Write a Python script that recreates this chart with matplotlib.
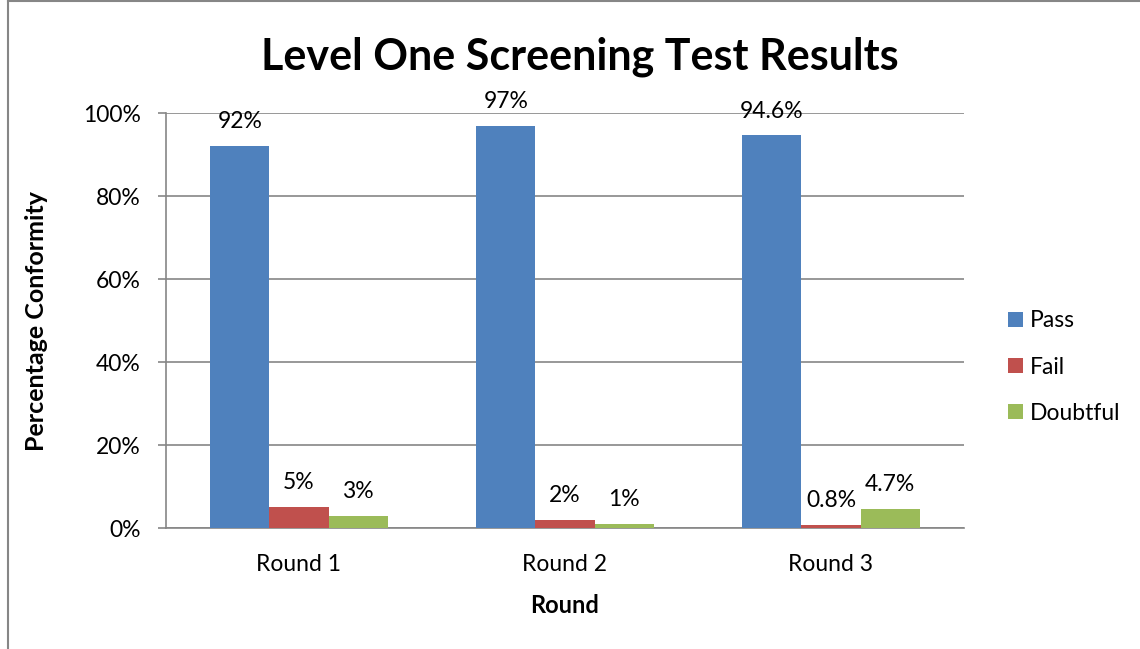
import matplotlib.pyplot as plt
from matplotlib.lines import Line2D
import numpy as np

rounds = ["Round 1", "Round 2", "Round 3"]
series_names = ["Pass", "Fail", "Doubtful"]
pass_vals = [92, 97, 94.6]
fail_vals = [5, 2, 0.8]
doubtful_vals = [3, 1, 4.7]
value_labels = [["92%", "97%", "94.6%"], ["5%", "2%", "0.8%"], ["3%", "1%", "4.7%"]]
colors = ["#4F81BD", "#C0504D", "#9BBB59"]
grey = "#868686"

plt.rcParams["font.family"] = ["Lato", "DejaVu Sans"]
FS = 16.5


def main():
    fig = plt.figure(figsize=(11.4, 6.49), dpi=100)
    ax = fig.add_axes([0.1456, 0.1864, 0.700, 0.6394])

    x = np.arange(len(rounds))
    width = 0.222
    all_vals = [pass_vals, fail_vals, doubtful_vals]
    for i, (name, vals) in enumerate(zip(series_names, all_vals)):
        bars = ax.bar(x + (i - 1) * width, vals, width, color=colors[i],
                      label=name, zorder=3)
        for b, lab in zip(bars, value_labels[i]):
            ax.annotate(lab, (b.get_x() + b.get_width() / 2, b.get_height()),
                        xytext=(0, 10), textcoords="offset points",
                        ha="center", va="bottom", fontsize=FS)

    ax.set_xlim(-0.5, 2.5)
    ax.set_ylim(0, 100)
    ax.set_yticks([0, 20, 40, 60, 80, 100])
    ax.set_yticklabels([f"{t}%" for t in range(0, 101, 20)], fontsize=FS)
    ax.set_xticks(x)
    ax.set_xticklabels(rounds, fontsize=FS)
    ax.tick_params(axis="x", length=0, pad=18.5)
    ax.tick_params(axis="y", length=6, color=grey, width=1.2, pad=12)
    ax.grid(axis="y", color=grey, linewidth=1.2, zorder=0)
    for s in ["top", "right"]:
        ax.spines[s].set_visible(False)
    for s in ["left", "bottom"]:
        ax.spines[s].set_color(grey)
        ax.spines[s].set_linewidth(1.2)

    ax.set_ylabel("Percentage Conformity", fontsize=18, fontweight="bold")
    ax.yaxis.set_label_coords(-0.148, 0.5)
    ax.set_xlabel("Round", fontsize=17, fontweight="bold", labelpad=14)

    fig.text(0.509, 0.912, "Level One Screening Test Results", fontsize=31,
             fontweight="bold", ha="center", va="center")

    fig.legend(loc="center left", bbox_to_anchor=(0.884, 0.4345), frameon=False,
               fontsize=FS, handlelength=0.65, handleheight=0.65, borderpad=0,
               borderaxespad=0, handletextpad=0.3, labelspacing=1.1)

    # chart border (top and left edges visible)
    fig.add_artist(Line2D([0.007, 0.007], [0, 0.998], color=grey, lw=1.5))
    fig.add_artist(Line2D([0.007, 1], [0.998, 0.998], color=grey, lw=1.5))

    fig.savefig("out.png", dpi=100)
    plt.close(fig)


if __name__ == "__main__":
    main()
